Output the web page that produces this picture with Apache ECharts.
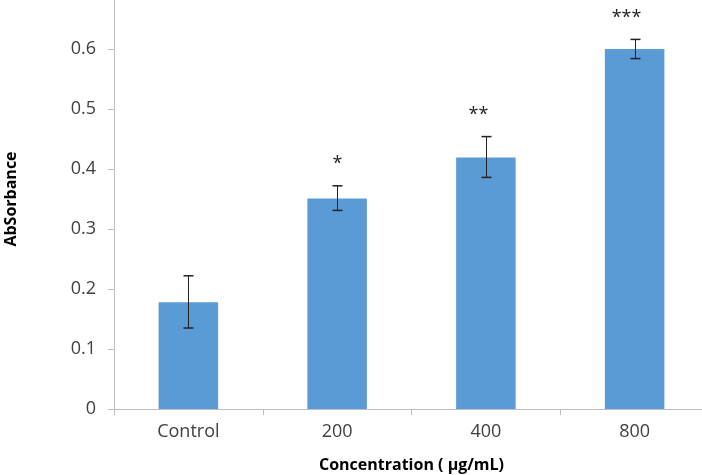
<!DOCTYPE html>
<html>
<head>
<meta charset="utf-8">
<script src="https://cdn.jsdelivr.net/npm/echarts@6/dist/echarts.min.js"></script>
<style>html,body{margin:0;padding:0;background:#fff}#c{width:702px;height:475px}</style>
</head>
<body>
<div id="c"></div>
<script>
var categories = ['Control', '200', '400', '800'];
var absorbance = [0.178, 0.351, 0.419, 0.600];
var errLow = [0.135, 0.331, 0.386, 0.584];
var errHigh = [0.222, 0.372, 0.454, 0.616];
var significance = ['', '*', '**', '***'];
var yTicks = [0, 0.1, 0.2, 0.3, 0.4, 0.5, 0.6, 0.7];

var chart = echarts.init(document.getElementById('c'));
var errData = categories.map(function (c, i) { return [i, errLow[i], errHigh[i], significance[i]]; });
var starOffsets = [0, 0, -8, -9];

chart.setOption({
  animation: false,
  grid: { left: 114, right: -7, top: -11, bottom: 66, containLabel: false, outerBoundsMode: 'none' },
  xAxis: {
    type: 'category',
    data: categories,
    boundaryGap: true,
    axisLine: { lineStyle: { color: '#bfbfbf', width: 1 } },
    axisTick: { show: true, length: 6, lineStyle: { color: '#bfbfbf' } },
    axisLabel: { color: '#404040', fontFamily: 'Open Sans', fontSize: 18, margin: 14 },
    name: 'Concentration ( µg/mL)',
    nameLocation: 'middle',
    nameGap: 48,
    nameTextStyle: { color: '#000', fontFamily: 'Open Sans', fontWeight: 'bold', fontSize: 16 }
  },
  yAxis: {
    type: 'value',
    min: yTicks[0],
    max: yTicks[yTicks.length - 1],
    interval: 0.1,
    splitLine: { show: false },
    axisLine: { show: true, lineStyle: { color: '#bfbfbf', width: 1 } },
    axisTick: { show: true, length: 6, lineStyle: { color: '#bfbfbf' } },
    axisLabel: { color: '#404040', fontFamily: 'Open Sans', fontSize: 18, margin: 18,
      formatter: function (v) { return String(Math.round(v * 10) / 10); } },
    name: 'AbSorbance',
    nameLocation: 'middle',
    nameGap: 95,
    nameTextStyle: { color: '#000', fontFamily: 'Open Sans', fontWeight: 'bold', fontSize: 16 }
  },
  series: [
    {
      type: 'bar',
      data: absorbance,
      barWidth: '40%',
      itemStyle: { color: '#5b9bd5' }
    },
    {
      type: 'custom',
      data: errData,
      z: 10,
      renderItem: function (params, api) {
        var i = api.value(0);
        var lo = api.coord([i, api.value(1)]);
        var hi = api.coord([i, api.value(2)]);
        var x = Math.round(lo[0]) + 0.5;
        var cap = 5;
        var children = [
          { type: 'line', shape: { x1: x, y1: lo[1], x2: x, y2: hi[1] }, style: { stroke: '#222', lineWidth: 1 } },
          { type: 'line', shape: { x1: x - cap, y1: lo[1], x2: x + cap, y2: lo[1] }, style: { stroke: '#222', lineWidth: 1.5 } },
          { type: 'line', shape: { x1: x - cap, y1: hi[1], x2: x + cap, y2: hi[1] }, style: { stroke: '#222', lineWidth: 1.5 } }
        ];
        var s = significance[i];
        if (s) {
          children.push({ type: 'text', style: { text: s, x: x + starOffsets[i], y: hi[1] - 22,
            textAlign: 'center', textVerticalAlign: 'middle', fill: '#222', font: '18px "Open Sans"' } });
        }
        return { type: 'group', children: children };
      }
    }
  ]
});
</script>
</body>
</html>
